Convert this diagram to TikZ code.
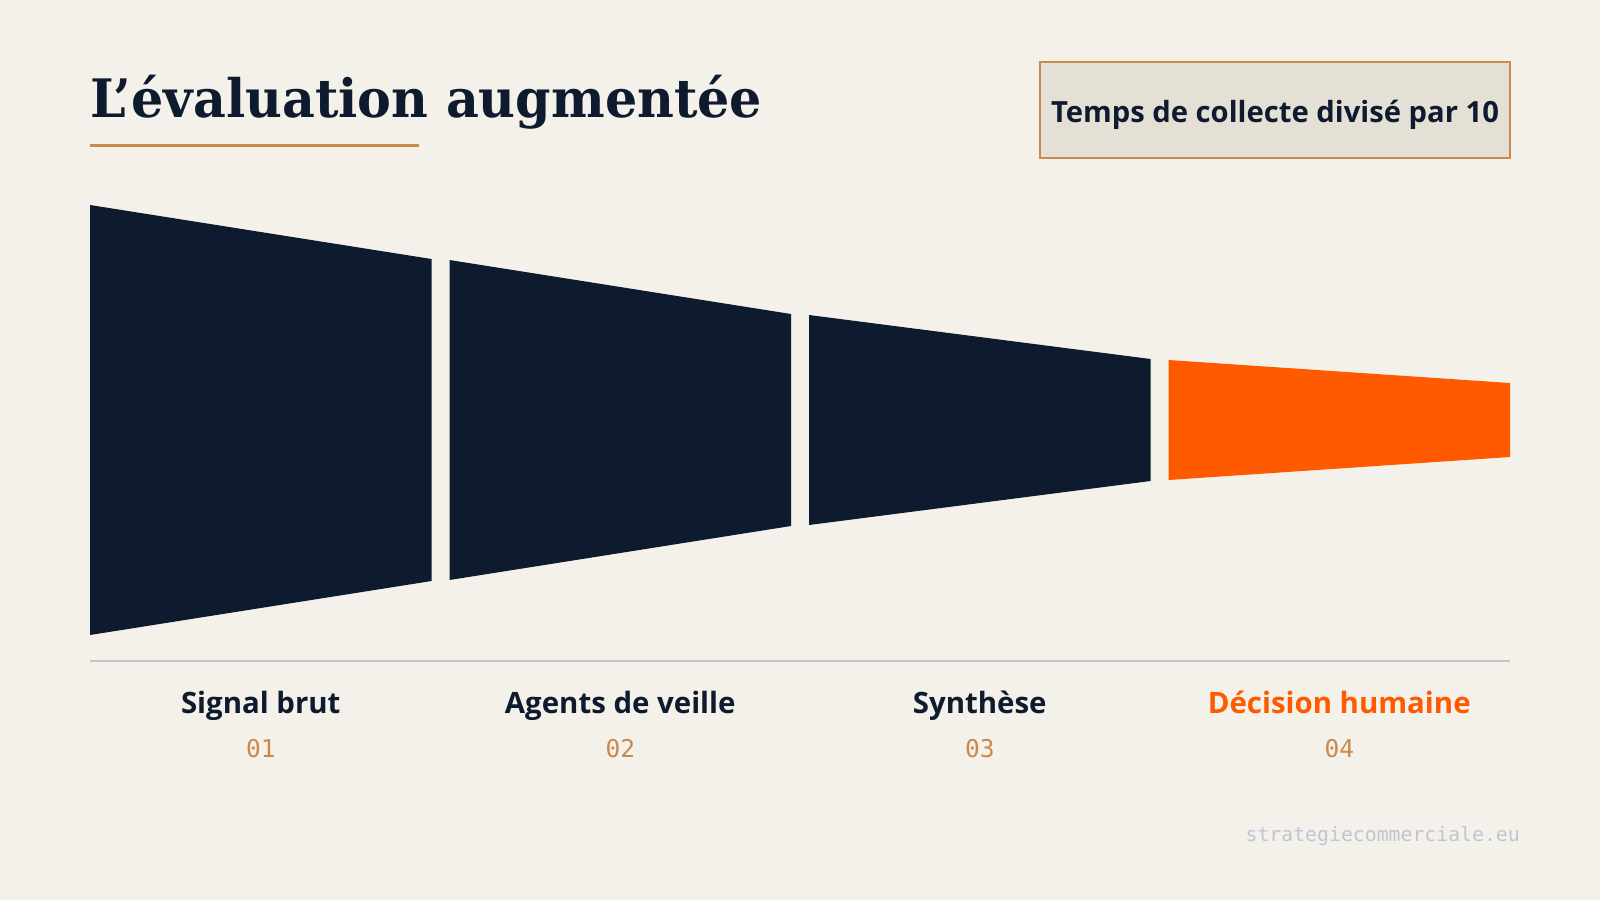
\documentclass[tikz,border=0pt]{standalone}
\usepackage{fontspec}
\usepackage{graphicx}
\setmainfont{DejaVu Serif}
\setsansfont{Open Sans}
\setmonofont{DejaVu Sans Mono}
\newfontfamily\titlefont{DejaVu Serif}
\definecolor{bgc}{HTML}{F4F1EA}
\definecolor{navy}{HTML}{0E1B2E}
\definecolor{orangec}{HTML}{FF5A00}
\definecolor{tan}{HTML}{C98A4B}
\definecolor{boxfill}{HTML}{E5E0D5}
\definecolor{rulec}{HTML}{C3C6C9}
\definecolor{footc}{HTML}{BFC6D2}
\tikzset{
  seg/.style={fill=navy, draw=none},
  lab/.style={font=\sffamily\bfseries\fontsize{29.4}{36}\selectfont, text=navy, inner sep=0pt, anchor=base},
  num/.style={font=\ttfamily\fontsize{24.5}{28}\selectfont, text=tan, inner sep=0pt, anchor=base},
}
\begin{document}
\begin{tikzpicture}[x=1pt,y=-1pt]
\useasboundingbox (0,0) rectangle (1600,900);
\fill[bgc] (0,0) rectangle (1600,900);
% title
\node[inner sep=0pt, anchor=base west, text=navy] (title) at (90,117)
  {\resizebox{672pt}{\height}{\titlefont\bfseries\fontsize{53}{60}\selectfont L’évaluation augmentée}};
\draw[tan, line width=3pt] (90,145) -- (419,145);
% box
\node[draw=tan, fill=boxfill, line width=2.5pt, minimum width=470pt, minimum height=96pt, inner sep=0pt] (box) at (1275,110) {};
\node[font=\sffamily\bfseries\fontsize{29.2}{34}\selectfont, text=navy, inner sep=0pt, anchor=base] (boxtext) at (1275,122) {Temps de collecte divisé par 10};
% funnel segments
\fill[seg] (90,205) -- (431.5,259) -- (431.5,581) -- (90,635) -- cycle;
\fill[seg] (449.5,260) -- (791,314) -- (791,526) -- (449.5,580) -- cycle;
\fill[seg] (809,315) -- (1150.5,359) -- (1150.5,481) -- (809,525) -- cycle;
\fill[orangec] (1168.5,360) -- (1510,383) -- (1510,457) -- (1168.5,480) -- cycle;
% rule
\draw[rulec, line width=1.2pt] (90,661) -- (1510,661);
% labels
\node[lab] (l1) at (260.75,713) {Signal brut};
\node[lab] (l2) at (620.25,713) {Agents de veille};
\node[lab] (l3) at (979.75,713) {Synthèse};
\node[lab, text=orangec] (l4) at (1339.25,713) {Décision humaine};
\node[num] (n1) at (260.75,757) {01};
\node[num] (n2) at (620.25,757) {02};
\node[num] (n3) at (979.75,757) {03};
\node[num] (n4) at (1339.25,757) {04};
% footer
\node[font=\ttfamily\fontsize{19.8}{24}\selectfont, text=footc, inner sep=0pt, anchor=base east] (foot) at (1520,841) {strategiecommerciale.eu};
\end{tikzpicture}
\end{document}
